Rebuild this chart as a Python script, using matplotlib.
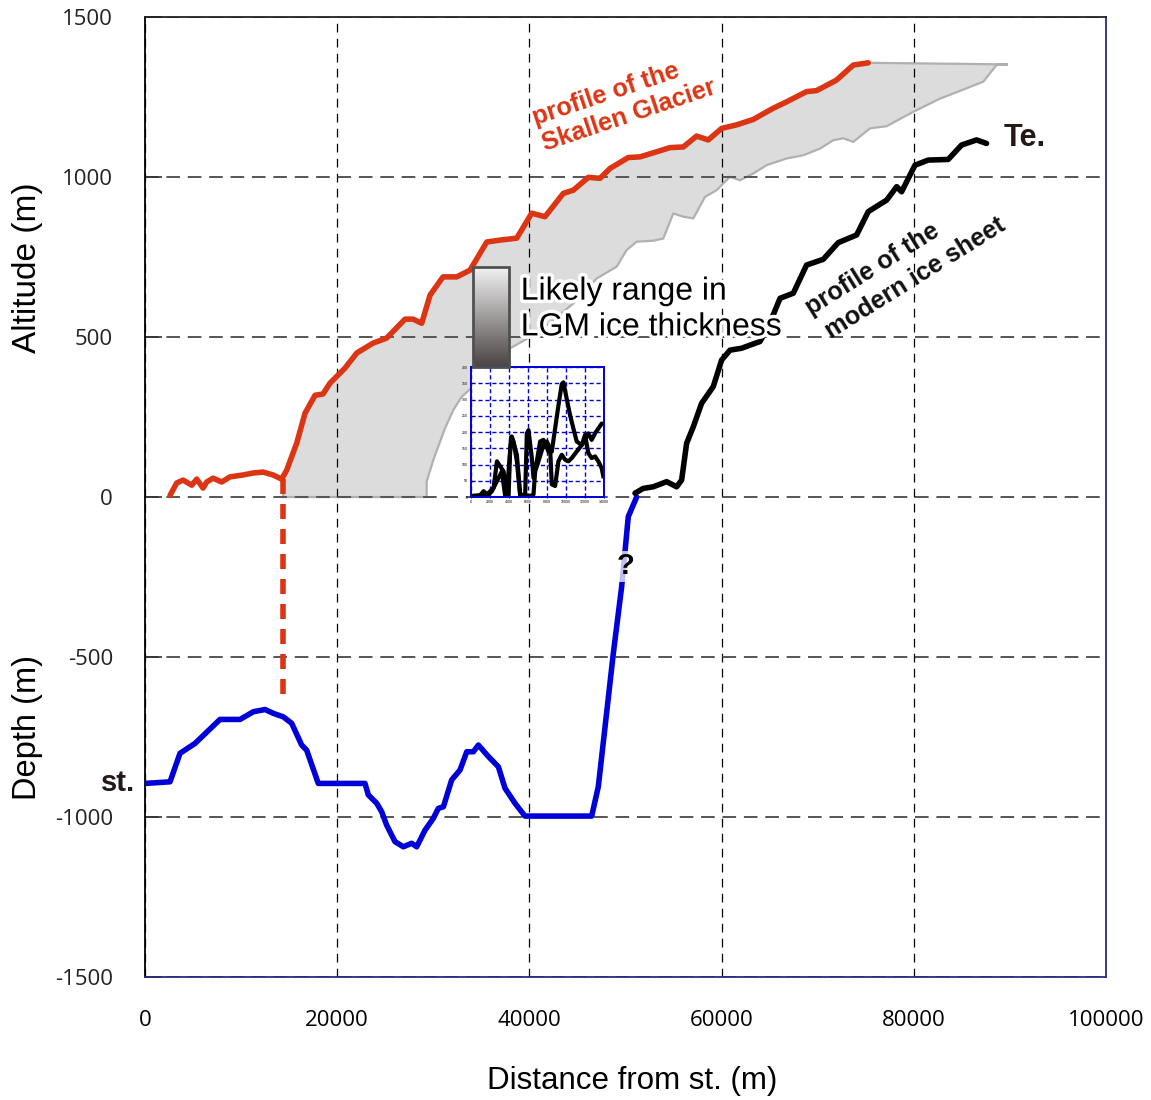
import numpy as np
import matplotlib
matplotlib.use("Agg")
import matplotlib.pyplot as plt
import matplotlib.patheffects as pe

plt.rcParams['axes.unicode_minus'] = False
plt.rcParams['font.family'] = ['Liberation Sans', 'DejaVu Sans']

# profile of the Skallen Glacier (m)
red_x = [2600, 3300, 3960, 4860, 5380, 6040, 6420, 7080, 7980, 8840,
         10200, 11240, 12280, 13320, 14220, 14740, 15780, 16650, 17690, 18520,
         19250, 20810, 22030, 23730, 25150, 27060, 27890, 28790, 29660, 31010,
         32440, 33820, 35560, 36940, 38680, 40240, 41620, 43530, 44570, 46130,
         47350, 48390, 50290, 51510, 53240, 54630, 56010, 57400, 58610, 60000,
         61560, 63290, 65370, 66760, 68840, 69880, 71960, 73700, 75260]
red_y = [5, 44, 53, 37, 56, 28, 47, 59, 47, 63,
         69, 75, 78, 69, 56, 84, 168, 262, 318, 322,
         356, 403, 450, 481, 497, 556, 556, 543, 631, 688,
         688, 709, 797, 803, 809, 887, 876, 949, 959, 999,
         996, 1027, 1061, 1063, 1079, 1092, 1094, 1128, 1116, 1152,
         1163, 1180, 1215, 1235, 1267, 1270, 1303, 1350, 1357]

# likely LGM range: top extension and lower edge
band_top_x = [89800]
band_top_y = [1352]
band_lo_x = [88600, 87230, 84110, 82730, 79950, 77180, 75440, 73700, 72660, 71620,
             70240, 68500, 66760, 64680, 63290, 61910, 60870, 59480, 58270, 57060,
             56010, 54970, 53930, 52900, 51160, 50120, 49080, 47000, 44570, 40750,
             37620, 36240, 34860, 32950, 32080, 31220, 30000, 29310, 29310, 14390]
band_lo_y = [1350, 1298, 1261, 1245, 1204, 1159, 1152, 1110, 1121, 1115,
             1089, 1068, 1058, 1037, 1011, 990, 1001, 959, 938, 871,
             876, 886, 808, 801, 798, 772, 720, 683, 605, 511,
             459, 428, 366, 313, 272, 215, 116, 48, 0, 0]

# bed depth profile
blue_x = [0, 2600, 3640, 5200, 7800, 9890, 11270, 12490, 13350, 14390,
          15260, 16300, 16820, 18030, 22890, 23240, 24110, 24620, 25140, 26010,
          26880, 27750, 28270, 29140, 30000, 30520, 31050, 31910, 32780, 33480,
          34170, 34690, 35730, 36770, 37460, 38500, 39540, 46480, 47170, 48730,
          49600, 50290, 51160]
blue_y = [-895, -890, -801, -770, -695, -695, -671, -664, -676, -687,
          -707, -775, -791, -895, -895, -931, -957, -983, -1025, -1077,
          -1093, -1082, -1093, -1041, -1004, -973, -968, -884, -853, -796,
          -796, -775, -811, -843, -910, -957, -997, -997, -905, -489,
          -280, -61, 0]

# modern ice sheet profile
black_x = [50990, 51850, 52890, 54280, 55320, 55840, 56360, 57060, 57920, 59130,
           60000, 60870, 62080, 63990, 64860, 66080, 67460, 68840, 70580, 72140,
           74050, 75260, 77180, 78220, 78730, 80120, 81500, 83580, 84970, 86530, 87570]
black_y = [12, 27, 32, 48, 32, 53, 168, 220, 293, 345,
           428, 459, 465, 486, 532, 621, 637, 725, 743, 795,
           819, 892, 928, 970, 954, 1037, 1053, 1055, 1100, 1116, 1105]

# glacier front link
front_x = [14390, 14390]
front_y = [56, -640]

# inset profiles
in1_x = [0, 980, 1330, 1680, 2380, 2730, 3080, 3430, 3780, 4060,
         4235, 4480, 4830, 5180, 5705, 5880, 6055, 6405, 6580, 6930,
         7280, 7630, 8155, 8505, 8855, 9205, 9555, 9730, 10080, 10430,
         10780, 11130, 11655, 12005, 12355, 12705, 13055, 13405, 13755, 13930]
in1_y = [3, 6, 18, 8, 28, 110, 94, 79, 8, 120,
         186, 171, 110, 3, 8, 196, 206, 120, 59, 110,
         171, 176, 140, 140, 211, 282, 348, 353, 302, 252,
         211, 171, 160, 176, 196, 176, 196, 211, 226, 226]
in2_x = [0, 1680, 2205, 2730, 3255, 3430, 3605, 3955, 4130, 4305,
         4830, 5180, 6230, 6580, 6755, 7105, 7630, 7980, 8330, 8505,
         8855, 9205, 9555, 9905, 10255, 10605, 11130, 11655, 12005, 12355,
         12705, 13055, 13405, 13755, 13930]
in2_y = [3, 3, 18, 49, 79, 39, 3, 3, 150, 186,
         130, 8, 3, 8, 79, 110, 160, 171, 150, 39,
         34, 110, 130, 115, 110, 120, 140, 160, 191, 135,
         120, 125, 110, 89, 64]

xticks = [0, 20000, 40000, 60000, 80000, 100000]
yticks = [-1500, -1000, -500, 0, 500, 1000, 1500]
inset_xticks = [0, 2000, 4000, 6000, 8000, 10000, 12000, 14000]
inset_yticks = [0, 50, 100, 150, 200, 250, 300, 350, 400]

red = '#dc3514'
blue = '#0000d8'

fig = plt.figure(figsize=(11.51, 11.0), dpi=100)
ax = fig.add_axes([0.126, 0.1118, 0.8349, 0.8727])
ax.set_xlim(0, 100000)
ax.set_ylim(-1500, 1500)

ax.set_axisbelow(True)
ax.xaxis.grid(True, color='black', lw=0.9, linestyle=(0, (7, 5)))
ax.yaxis.grid(True, color='#555555', lw=1.4, linestyle=(0, (7, 4)))

# LGM range band
fill_x = [14390] + red_x[15:] + band_top_x + band_lo_x
fill_y = [56] + red_y[15:] + band_top_y + band_lo_y
ax.fill(fill_x, fill_y, facecolor='#dcdcdc', edgecolor='#b0b0b0', lw=1.6, zorder=0.3)

line_kw = dict(lw=4.0, solid_capstyle='round', solid_joinstyle='round', zorder=4)
ax.plot(front_x, front_y, color=red, lw=4, linestyle=(0, (2.7, 1.8)), zorder=3)
ax.plot(red_x, red_y, color=red, **line_kw)
ax.plot(blue_x, blue_y, color=blue, **line_kw)
ax.plot(black_x, black_y, color='black', **line_kw)

# gradient key box
grad = np.linspace(0, 1, 256).reshape(-1, 1)
ax.imshow(grad, cmap=matplotlib.colors.LinearSegmentedColormap.from_list('g', ['#f4f4f4', '#4a4343']),
          extent=[34130, 37880, 406, 719], aspect='auto', origin='upper', zorder=5)
ax.add_patch(plt.Rectangle((34130, 406), 3750, 313, fill=False, edgecolor='#505050', lw=2, zorder=6))
ax.text(39100, 586, 'Likely range in\nLGM ice thickness', fontsize=23, ha='left', va='center',
        linespacing=1.25, zorder=7,
        path_effects=[pe.withStroke(linewidth=5, foreground='white')])

lab_kw = dict(fontweight='bold', ha='center', va='center', rotation_mode='anchor')
ax.text(47970, 1259, 'profile of the', color=red, fontsize=18.3, rotation=18.5, **lab_kw)
ax.text(50360, 1191, 'Skallen Glacier', color=red, fontsize=18.3, rotation=18.5, **lab_kw)
ax.text(75650, 712, 'profile of the', color='#111111', fontsize=18.2, rotation=32, **lab_kw)
ax.text(80120, 684, 'modern ice sheet', color='#111111', fontsize=18.2, rotation=32, **lab_kw)
ax.text(89300, 1122, 'Te.', fontsize=22, fontweight='bold', color='#231815', ha='left', va='center')
ax.text(-1000, -895, 'st.', fontsize=21, fontweight='bold', color='#231815', ha='right',
        va='center', clip_on=False)
ax.text(50050, -216, '?', fontsize=21, fontweight='bold', ha='center', va='center', zorder=6,
        bbox=dict(facecolor='white', edgecolor='none', alpha=0.75, pad=1))

ax.set_xticks(xticks)
ax.set_xticklabels([str(v) for v in xticks], fontsize=16, family='Open Sans')
ax.set_yticks(yticks)
ax.set_yticklabels([str(v) for v in yticks], fontsize=16, family='Open Sans', color='#222222')
ax.tick_params(axis='x', length=0, pad=24)
ax.tick_params(axis='y', direction='in', length=12, width=1.2, color='#333333', pad=23)

ax.spines['left'].set_color('black')
ax.spines['left'].set_linewidth(1.3)
ax.spines['top'].set_color('#222222')
ax.spines['top'].set_linewidth(1.3)
ax.spines['right'].set_color('#2a2a80')
ax.spines['right'].set_linewidth(1.3)
ax.spines['bottom'].set_color('#2a2a80')
ax.spines['bottom'].set_linewidth(1.3)

fig.text(0.549, 0.0173, 'Distance from st. (m)', fontsize=22.5, ha='center', va='center')
fig.text(0.0243, 0.7564, 'Altitude (m)', fontsize=24, rotation=90, ha='center', va='center')
fig.text(0.0243, 0.3382, 'Depth (m)', fontsize=23.5, rotation=90, ha='center', va='center')

# small inset
ins = ax.inset_axes([33920, 0, 13840, 406], transform=ax.transData, zorder=5)
ins.set_xlim(0, 14000)
ins.set_ylim(0, 400)
ins.plot(in1_x, in1_y, color='black', lw=3, solid_joinstyle='round')
ins.plot(in2_x, in2_y, color='black', lw=3, solid_joinstyle='round')
ins.set_xticks(inset_xticks)
ins.set_yticks(inset_yticks)
ins.set_xticklabels([str(v) for v in inset_xticks], fontsize=2.5)
ins.set_yticklabels([str(v) for v in inset_yticks], fontsize=2.5)
ins.tick_params(length=1, pad=1, color=blue)
ins.grid(True, color=blue, lw=1, linestyle=(0, (3, 2)))
for s in ins.spines.values():
    s.set_color(blue)
    s.set_linewidth(1.4)

fig.savefig('out.png', dpi=100)
